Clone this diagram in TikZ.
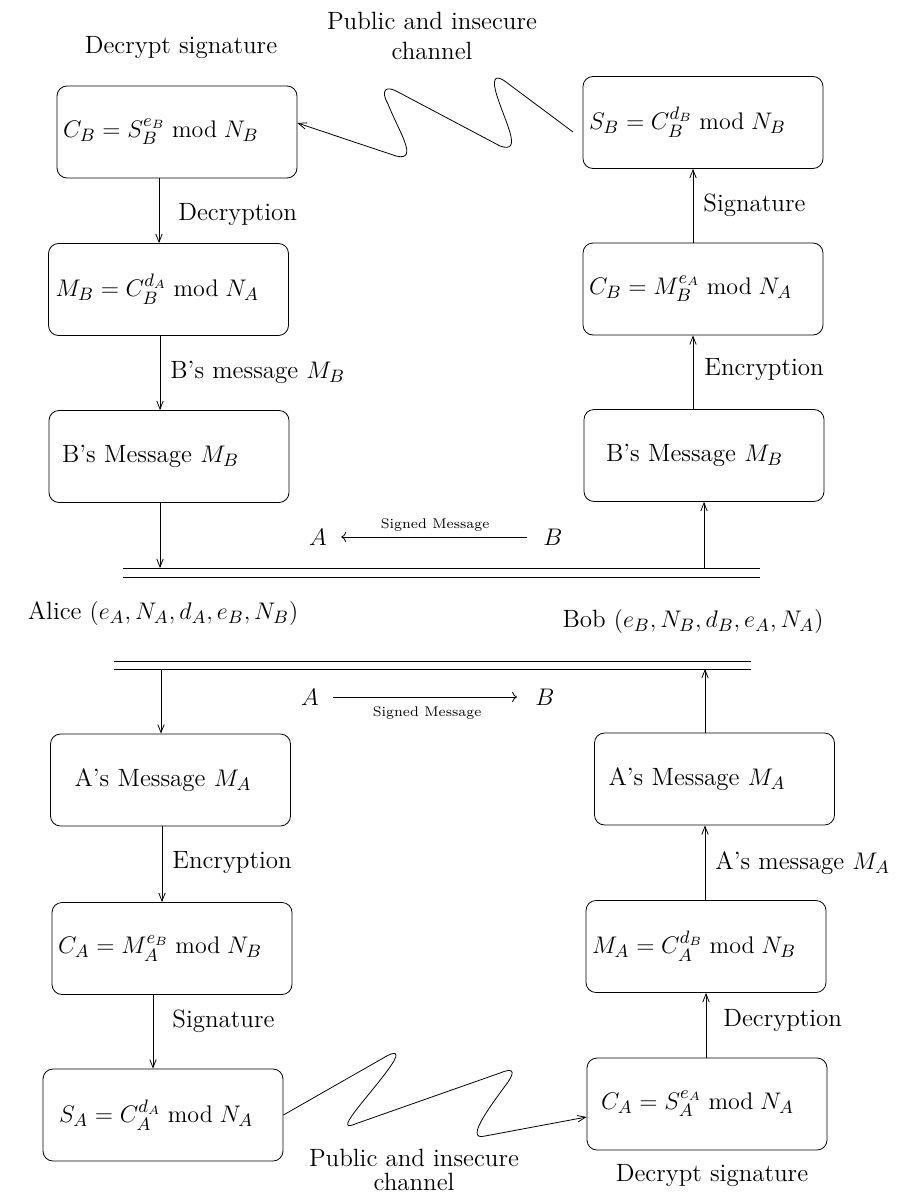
\documentclass[tikz,border=0pt,12pt]{standalone}
\usepackage{amsmath}
\usetikzlibrary{arrows.meta, positioning, calc}

\begin{document}
\begin{tikzpicture}[x=0.5pt, y=-0.5pt, >={Straight Barb[length=4pt,width=3.2pt]},
  every node/.style={font=\fontsize{12.5}{15}\selectfont},
  rbox/.style={draw, rounded corners=5pt, minimum height=46pt, text width=114pt, inner xsep=3pt, align=left},
  lbl/.style={anchor=west, inner sep=0pt},
  sig/.style={font=\fontsize{7}{8.5}\selectfont, inner sep=0.5pt}]

\useasboundingbox (0,0) rectangle (910,1193);

% Alice receives B's message (top left)
\node[rbox] (cbA) at (177,132) {$C_B = S_B^{e_B} \bmod N_B$};
\node[rbox] (mbA) at (168.5,289.5) {\hspace*{0.5pt}$M_B = C_B^{d_A} \bmod N_A$};
\node[rbox] (msgbA) at (169,456.5) {\hspace*{3.5pt}B's Message $M_B$};

% Bob sends B's message (top right)
\node[rbox] (sbB) at (703,122.5) {$S_B = C_B^{d_B} \bmod N_B$};
\node[rbox] (cbB) at (703,289) {$C_B = M_B^{e_A} \bmod N_A$};
\node[rbox] (msgbB) at (704,455.5) {\hspace*{8pt}B's Message $M_B$};

% Alice sends A's message (bottom left)
\node[rbox] (msgaA) at (170.5,780) {\hspace*{9pt}A's Message $M_A$};
\node[rbox] (caA) at (172,948.5) {$C_A = M_A^{e_B} \bmod N_B$};
\node[rbox] (saA) at (163,1115) {\hspace*{5pt}$S_A = C_A^{d_A} \bmod N_A$};

% Bob receives A's message (bottom right)
\node[rbox] (msgaB) at (714.5,779) {\hspace*{4pt}A's Message $M_A$};
\node[rbox] (maB) at (706,946.5) {$M_A = C_A^{d_B} \bmod N_B$};
\node[rbox] (caB) at (707,1104) {\hspace*{4pt}$C_A = S_A^{e_A} \bmod N_A$};

% headings
\node (decA) at (181,48) {Decrypt signature};
\node[align=center] (chanTop) at (432,36) {Public and insecure\\channel};
\node (decB) at (712,1176) {Decrypt signature};
\node[align=center] (chanBot) at (414,1170) {Public and insecure\\[-3pt]channel};

% the two parties
\node (alice) at (163,613) {Alice $(e_A, N_A, d_A, e_B, N_B)$};
\node (bob) at (693,621) {Bob $(e_B, N_B, d_B, e_A, N_A)$};

% double rules
\draw (123,568) coordinate (upA) -- (760,568);
\draw (123,577) -- (760,577);
\draw (114,661) -- (751,661);
\draw (114,669) coordinate (lowA) -- (751,669);

% signed message directions
\node (a1) at (318,537) {$A$};
\node (b1) at (553,537) {$B$};
\draw[{To}-, shorten <=3pt, shorten >=4pt] (a1) -- (b1) node[midway, above=2pt, sig] (sm1) {Signed Message};
\node (a2) at (310,697) {$A$};
\node (b2) at (545,697) {$B$};
\draw[-{To}, shorten <=3pt, shorten >=5pt] (a2) -- (b2) node[midway, below=4.3pt, sig] (sm2) {Signed Message};

% left column arrows
\draw[->] ([xshift=-9pt]cbA.south) -- ([xshift=-9pt]cbA.south |- mbA.north);
\draw[->] ([xshift=-4.25pt]mbA.south) -- ([xshift=-4.25pt]mbA.south |- msgbA.north);
\draw[->] ([xshift=-4.5pt]msgbA.south) -- ([xshift=-4.5pt]msgbA.south |- upA);
\draw[<-] ([xshift=-4.75pt]msgaA.north) -- ([xshift=-4.75pt]msgaA.north |- lowA);
\draw[->] ([xshift=-4.25pt]msgaA.south) -- ([xshift=-4.25pt]msgaA.south |- caA.north);
\draw[->] ([xshift=-9.5pt]caA.south) -- ([xshift=-9.5pt]caA.south |- saA.north);

% right column arrows
\draw[<-] (msgbB.south) -- (msgbB.south |- upA);
\draw[->] ([xshift=-5.5pt]msgbB.north) -- ([xshift=-5.5pt]msgbB.north |- cbB.south);
\draw[->] ([xshift=-5pt]cbB.north) -- ([xshift=-5pt]cbB.north |- sbB.south);
\draw[->] ([xshift=-4.75pt]msgaB.north) -- ([xshift=-4.75pt]msgaB.north |- lowA);
\draw[->] ([xshift=-0.5pt]maB.north) -- ([xshift=-0.5pt]maB.north |- msgaB.south);
\draw[->] ([xshift=-0.5pt]caB.north) -- ([xshift=-0.5pt]caB.north |- maB.south);

% arrow labels
\node[lbl] (l1) at (178,215) {Decryption};
\node[lbl] (l2) at (170,372) {B's message $M_B$};
\node[lbl] (l3) at (703,205) {Signature};
\node[lbl] (l4) at (704,370) {Encryption};
\node[lbl] (l5) at (172,863) {Encryption};
\node[lbl] (l6) at (172,1021) {Signature};
\node[lbl] (l7) at (715,863) {A's message $M_A$};
\node[lbl] (l8) at (723,1020) {Decryption};

% insecure channels (wiggly lines)
\coordinate (chanB) at (573,132);
\draw[->] (chanB) -- (506,82)
  .. controls (494,73) and (492,80) .. (497,96)
  .. controls (506,124) and (523,154) .. (500,146)
  -- (398,92)
  .. controls (386,85) and (380,90) .. (388,104)
  .. controls (398,130) and (420,162) .. (396,156)
  -- ([yshift=4.5pt]cbA.east);
\draw[->] (saA.east) -- (385,1057)
  .. controls (395,1051) and (400,1052) .. (392,1064)
  .. controls (375,1090) and (330,1135) .. (355,1124)
  -- (500,1073)
  .. controls (512,1068) and (516,1070) .. (508,1082)
  .. controls (495,1100) and (462,1142) .. (485,1136)
  -- ([yshift=-6.5pt]caB.west);

\end{tikzpicture}
\end{document}
